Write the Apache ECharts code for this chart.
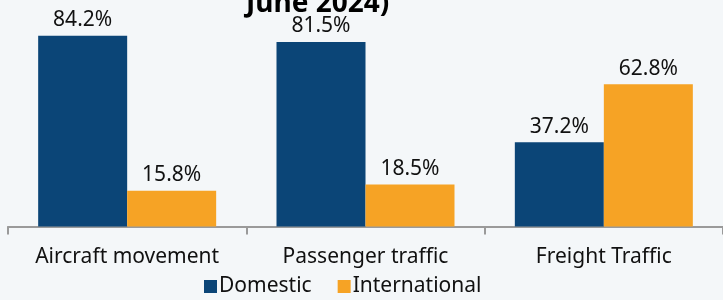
<!DOCTYPE html>
<html>
<head>
<meta charset="utf-8">
<script src="https://cdn.jsdelivr.net/npm/echarts@6/dist/echarts.min.js"></script>
<style>
  html, body { margin: 0; padding: 0; background: #f4f7f9; }
  #chart { width: 723px; height: 300px; }
</style>
</head>
<body>
<div id="chart"></div>
<script>
var categories = ['Aircraft movement', 'Passenger traffic', 'Freight Traffic'];
var domestic = [84.2, 81.5, 37.2];
var international = [15.8, 18.5, 62.8];

var myChart = echarts.init(document.getElementById('chart'));

// value labels on top of the bars
var valueLabel = {
    show: true, position: 'top', distance: 5,
    formatter: '{c}%', fontSize: 21, color: '#111', fontFamily: 'Noto Sans'
};

var option = {
    backgroundColor: '#f4f7f9',
    animation: false,
    title: {
        text: 'June 2024)',
        left: 246,
        top: -10,
        padding: 0,
        textStyle: { fontSize: 28, fontWeight: 'bold', color: '#000', fontFamily: 'Noto Sans' }
    },
    legend: {
        left: 204,
        top: 276,
        padding: 0,
        itemWidth: 13,
        itemHeight: 13,
        itemGap: 26,
        icon: 'rect',
        textStyle: { fontSize: 21, color: '#111', fontFamily: 'Noto Sans', padding: [0, 0, 0, -3] },
        data: ['Domestic', 'International']
    },
    grid: { left: 8, right: -5, top: -1.5, bottom: 73.5, containLabel: false },
    xAxis: {
        type: 'category',
        data: categories,
        axisLine: { lineStyle: { color: '#9a9a9a', width: 2 } },
        axisTick: { show: true, interval: 0, length: 8, lineStyle: { color: '#9a9a9a', width: 2 } },
        axisLabel: { interval: 0, fontSize: 21, color: '#111', fontFamily: 'Noto Sans', margin: 20 }
    },
    yAxis: {
        type: 'value',
        min: 0,
        max: 100,
        show: false
    },
    series: [
        {
            name: 'Domestic',
            type: 'bar',
            data: domestic,
            barWidth: 89,
            barGap: '0%',
            itemStyle: { color: '#0b4577' },
            label: valueLabel
        },
        {
            name: 'International',
            type: 'bar',
            data: international,
            barWidth: 89,
            itemStyle: { color: '#f6a325' },
            label: valueLabel
        }
    ]
};

option && myChart.setOption(option);
</script>
</body>
</html>
